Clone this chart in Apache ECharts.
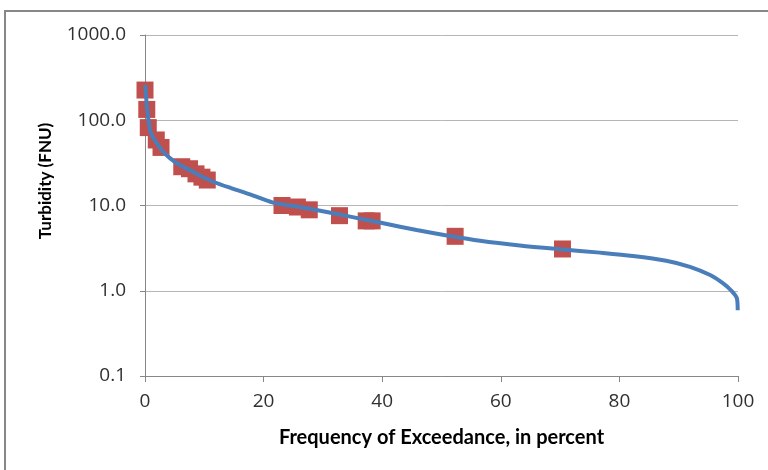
<!DOCTYPE html>
<html>
<head>
<meta charset="utf-8">
<script src="https://cdn.jsdelivr.net/npm/echarts@6/dist/echarts.min.js"></script>
<style>html,body{margin:0;padding:0;background:#fff}#c{width:768px;height:470px}</style>
</head>
<body>
<div id="c"></div>
<script>
// Flow-duration style curve (frequency of exceedance, % ; turbidity, FNU)
var curveX = [0.05, 0.3, 0.6, 0.84, 1.3, 1.97, 3, 4.2, 5.8, 7.6, 9.5, 11.5, 14.5, 17.7, 21.6, 24.5, 28.9, 34.6, 40.2, 45.8, 51.4, 56.5, 63.2, 70, 76.7, 82.3, 87.9, 91.9, 95.3, 97.5, 98.9, 99.8, 99.95];
var curveY = [260, 150, 100, 77, 64, 54, 43, 36, 30, 26, 22, 19, 16, 13.5, 10.8, 10.0, 8.85, 7.4, 6.18, 5.16, 4.39, 3.86, 3.4, 3.07, 2.8, 2.56, 2.25, 1.91, 1.53, 1.22, 1.0, 0.82, 0.59];
// Discrete samples
var obsX = [0, 0.3, 0.55, 1.9, 2.7, 6.2, 7.5, 8.6, 9.6, 10.5, 23.1, 25.7, 27.7, 32.8, 37.3, 38.3, 52.3, 70.4];
var obsY = [226, 134, 82, 58.7, 48, 28.5, 27, 23.5, 21.5, 19.9, 10, 9.6, 8.9, 7.6, 6.6, 6.6, 4.35, 3.09];
var xTicks = [0, 20, 40, 60, 80, 100];
var yTicks = [0.1, 1, 10, 100, 1000];

var curve = curveX.map(function (x, i) { return [x, curveY[i]]; });
var obs = obsX.map(function (x, i) { return [x, obsY[i]]; });

var chart = echarts.init(document.getElementById('c'), null, { renderer: 'canvas' });
chart.setOption({
  animation: false,
  backgroundColor: '#fff',
  grid: { left: 145, right: 30, top: 35, bottom: 94, containLabel: false },
  graphic: [
    { type: 'rect', shape: { x: 5, y: 11, width: 820, height: 520 }, style: { fill: 'none', stroke: '#878787', lineWidth: 2 }, z: -1 },
    { type: 'text', x: 46, y: 181, rotation: Math.PI / 2, style: { text: 'Turbidity (FNU)', font: 'bold 17px Lato', fill: '#000', align: 'center', verticalAlign: 'middle' } }
  ],
  xAxis: {
    type: 'value', min: xTicks[0], max: xTicks[xTicks.length - 1], interval: 20,
    name: 'Frequency of Exceedance, in percent', nameLocation: 'middle', nameGap: 52,
    nameTextStyle: { fontFamily: 'Lato', fontWeight: 'bold', fontSize: 20, color: '#000' },
    axisLine: { onZero: false, lineStyle: { color: '#878787', width: 1 } },
    axisTick: { show: true, length: 6, lineStyle: { color: '#878787' } },
    axisLabel: { margin: 16, fontFamily: 'Open Sans', fontSize: 19, color: '#303030' },
    splitLine: { show: false }
  },
  yAxis: {
    type: 'log', logBase: 10, min: yTicks[0], max: yTicks[yTicks.length - 1],
    axisLine: { show: true, lineStyle: { color: '#878787', width: 1 } },
    axisTick: { show: true, length: 5, lineStyle: { color: '#878787' } },
    axisLabel: { margin: 19, fontFamily: 'Open Sans', fontSize: 19, color: '#303030', formatter: function (v) { return Number(v).toFixed(1); } },
    splitLine: { show: true, lineStyle: { color: '#b5b5b5', width: 1 } }
  },
  series: [
    { type: 'scatter', data: obs, symbol: 'rect', symbolSize: 17, itemStyle: { color: '#C0504D', opacity: 1 }, z: 2 },
    { type: 'line', data: curve, showSymbol: false, smooth: 0.3, lineStyle: { color: '#4A7EBB', width: 4 }, z: 3 }
  ]
});
</script>
</body>
</html>
